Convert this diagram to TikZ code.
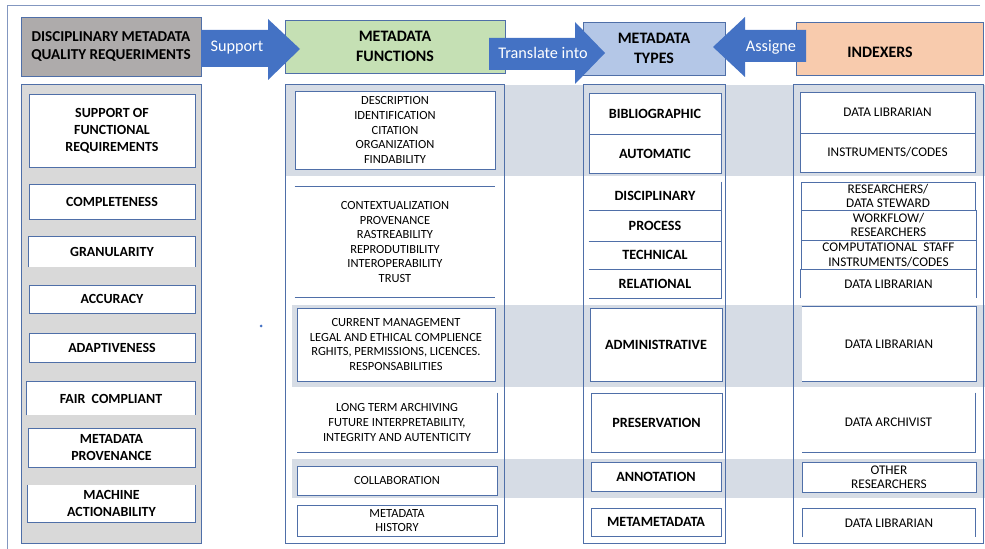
\documentclass[tikz,border=0pt]{standalone}
\usepackage{fontspec}
\setmainfont{Carlito}

\definecolor{framecol}{HTML}{4F6FA8}
\definecolor{outercol}{HTML}{8397C0}
\definecolor{arrowcol}{HTML}{4472C4}
\definecolor{greyhead}{HTML}{AEABAB}
\definecolor{greenhead}{HTML}{C5E0B4}
\definecolor{bluehead}{HTML}{B4C7E7}
\definecolor{orangehead}{HTML}{F8CBAD}
\definecolor{bandcol}{HTML}{D6DCE5}
\definecolor{panelgrey}{HTML}{D9D9D9}

\tikzset{
  % place a node over the rectangle x1,y1 -- x2,y2 (picture units)
  span/.style n args={4}{at={({(#1+#3)/2},{(#2+#4)/2})},
    minimum width={(#3-#1)*1bp}, minimum height={(#4-#2)*1bp}},
  hdr/.style={draw=framecol, line width=0.9pt, inner sep=0pt, align=center,
    font=\fontsize{16}{20}\selectfont\bfseries},
  panel/.style={draw=framecol, line width=0.9pt, inner sep=0pt},
  cell/.style={draw=framecol, fill=white, line width=0.9pt, inner sep=0pt, align=center},
  opencell/.style={cell, draw=none},
  edgeline/.style={draw=framecol, line width=0.9pt},
  reqtext/.style={font=\fontsize{14}{17}\selectfont\bfseries},
  functext/.style={font=\fontsize{12.5}{14.6}\selectfont},
  typetext/.style={font=\fontsize{14.2}{16}\selectfont\bfseries},
  indxtext/.style={font=\fontsize{13.3}{14.5}\selectfont},
  blockarrow/.style={fill=arrowcol},
  arrowtext/.style={text=white, inner sep=0pt, font=\fontsize{16.3}{18}\selectfont},
}

\begin{document}
\begin{tikzpicture}[x=1bp,y=-1bp]
  \useasboundingbox (0,0) rectangle (985,549);

  % outer frame
  \draw[outercol, line width=0.9pt] (980,5) -- (7,5) -- (7,549);

  % headers
  \node[hdr, fill=greyhead, span={21}{17}{201}{76}, font=\fontsize{15.2}{18}\selectfont\bfseries] (qualityhdr) {DISCIPLINARY METADATA\\QUALITY REQUERIMENTS};
  \node[hdr, fill=greenhead, span={285}{20}{505}{73}] (funchdr) {METADATA\\FUNCTIONS};
  \node[hdr, fill=bluehead, span={583}{22}{725}{75}] (typehdr) {METADATA\\TYPES};
  \node[hdr, fill=orangehead, span={796}{22}{983}{75}] (indxhdr) {};
  \node[hdr, draw=none] (indxlabel) at (880,52) {INDEXERS};

  % block arrows between the headers
  \fill[blockarrow] (201,30) -- (268,30) -- (268,19) -- (300,49) -- (268,80) -- (268,67) -- (201,67) -- cycle;
  \node[arrowtext] (support) at (237,48) {Support};
  \fill[blockarrow] (489,38) -- (575,38) -- (575,22) -- (605,53) -- (575,84) -- (575,70) -- (489,70) -- cycle;
  \node[arrowtext] (translate) at (543,53) {Translate into};
  \fill[blockarrow] (806,30) -- (745,30) -- (745,17) -- (713,47) -- (745,77) -- (745,62) -- (806,62) -- cycle;
  \node[arrowtext] (assigne) at (771,47) {Assigne};

  % shaded bands
  \fill[bandcol] (285,85) rectangle (985,176);
  \fill[bandcol] (292,305) rectangle (985,387);
  \fill[bandcol] (292,459) rectangle (985,498);

  % column panels
  \node[panel, fill=panelgrey, span={21}{84}{201}{543}] (reqpanel) {};
  \node[panel, span={285}{84}{504}{543}] (funcpanel) {};
  \node[panel, span={583}{84}{725}{543}] (typepanel) {};
  \node[panel, span={793}{84}{983}{543}] (indxpanel) {};

  % quality requirements
  \node[cell, reqtext, span={29}{94}{195}{167}] (supportreq) {SUPPORT OF\\FUNCTIONAL\\REQUIREMENTS};
  \node[cell, reqtext, span={29}{184}{195}{219}] (completeness) {COMPLETENESS};
  \node[opencell, reqtext, span={29}{237}{195}{267}] (granularity) {GRANULARITY};
  \draw[edgeline] (granularity.south west) -- (granularity.north west) -- (granularity.north east) -- (granularity.south east);
  \node[cell, reqtext, span={29}{285}{195}{313}] (accuracy) {ACCURACY};
  \node[cell, reqtext, span={29}{333}{195}{362}] (adaptiveness) {ADAPTIVENESS};
  \node[opencell, reqtext, span={27}{382}{195}{415}] (fair) {FAIR\ \ COMPLIANT};
  \draw[edgeline] (fair.south west) -- (fair.north west) -- (fair.north east) -- (fair.south east);
  \node[cell, reqtext, span={28}{428}{195}{467}] (provenance) {METADATA\\PROVENANCE};
  \node[opencell, reqtext, span={28}{485}{195}{522}] (machine) {MACHINE\\ACTIONABILITY};
  \draw[edgeline] (machine.north west) -- (machine.south west) -- (machine.south east) -- (machine.north east);

  % metadata functions
  \node[cell, functext, span={295}{91}{495}{169}] (description) {DESCRIPTION\\IDENTIFICATION\\CITATION\\ORGANIZATION\\FINDABILITY};
  \node[opencell, functext, span={295}{187}{495}{297}] (context) {CONTEXTUALIZATION\\PROVENANCE\\RASTREABILITY\\REPRODUTIBILITY\\INTEROPERABILITY\\TRUST};
  \draw[edgeline] (context.north west) -- (context.north east);
  \draw[edgeline] (context.south west) -- (context.south east);
  \node[cell, functext, span={297}{308}{495}{381}] (management) {CURRENT MANAGEMENT\\LEGAL AND ETHICAL COMPLIENCE\\RGHITS, PERMISSIONS, LICENCES.\\RESPONSABILITIES};
  \node[opencell, functext, span={297}{393}{497}{452}] (archiving) {LONG TERM ARCHIVING\\FUTURE INTERPRETABILITY,\\INTEGRITY AND AUTENTICITY};
  \draw[edgeline] (archiving.north east) -- (archiving.south east) -- (archiving.south west);
  \node[cell, functext, span={297}{466}{497}{495}] (collaboration) {COLLABORATION};
  \node[cell, functext, span={297}{505}{497}{536}] (history) {METADATA\\HISTORY};

  % metadata types
  \node[cell, typetext, span={589}{93}{721}{134}] (bibliographic) {BIBLIOGRAPHIC};
  \node[cell, typetext, span={589}{134}{721}{173}] (automatic) {AUTOMATIC};
  \node[opencell, typetext, span={589}{182}{721}{210}] (disciplinary) {DISCIPLINARY};
  \node[opencell, typetext, span={589}{210}{721}{241}] (process) {PROCESS};
  \node[opencell, typetext, span={589}{241}{721}{269}] (technical) {TECHNICAL};
  \node[opencell, typetext, span={589}{269}{721}{298}] (relational) {RELATIONAL};
  \draw[edgeline] (disciplinary.north east) -- (relational.south east) -- (relational.south west);
  \draw[edgeline] (disciplinary.south west) -- (disciplinary.south east);
  \draw[edgeline, line width=1.6pt] (process.south west) -- (process.south east);
  \draw[edgeline] (technical.south west) -- (technical.south east);
  \node[cell, typetext, span={590}{308}{722}{381}] (administrative) {ADMINISTRATIVE};
  \node[cell, typetext, span={591}{393}{722}{452}] (preservation) {PRESERVATION};
  \node[cell, typetext, span={591}{462}{721}{491}] (annotation) {ANNOTATION};
  \node[cell, typetext, span={591}{508}{721}{536}] (metameta) {METAMETADATA};

  % indexers
  \node[cell, indxtext, span={800}{92}{975}{133}] (librariana) {DATA LIBRARIAN};
  \node[cell, indxtext, span={800}{133}{975}{172}] (instruments) {INSTRUMENTS/CODES};
  \node[cell, indxtext, span={801}{182}{975}{210}] (steward) {RESEARCHERS/\\DATA STEWARD};
  \node[cell, indxtext, span={801}{210}{976}{240}] (workflow) {WORKFLOW/\\RESEARCHERS};
  \node[cell, indxtext, span={801}{240}{976}{270}] (computational) {COMPUTATIONAL\ \ STAFF\\INSTRUMENTS/CODES};
  \node[opencell, indxtext, span={801}{270}{976}{298}] (librarianb) {DATA LIBRARIAN};
  \draw[edgeline] (librarianb.south west) -- (librarianb.north west) -- (librarianb.north east) -- (librarianb.south east);
  \node[opencell, indxtext, span={802}{307}{976}{381}] (librarianc) {DATA LIBRARIAN};
  \draw[edgeline] (librarianc.north west) -- (librarianc.north east) -- (librarianc.south east) -- (librarianc.south west);
  \node[opencell, indxtext, span={802}{393}{975}{452}] (archivist) {DATA ARCHIVIST};
  \draw[edgeline] (archivist.north east) -- (archivist.south east) -- (archivist.south west);
  \node[cell, indxtext, span={802}{462}{976}{492}] (others) {OTHER\\RESEARCHERS};
  \node[opencell, indxtext, span={803}{509}{975}{537}] (librariand) {DATA LIBRARIAN};
  \draw[edgeline] (librariand.south west) -- (librariand.north west) -- (librariand.north east) -- (librariand.south east);

  \fill[arrowcol] (261,326) circle (1.5bp);
\end{tikzpicture}
\end{document}
